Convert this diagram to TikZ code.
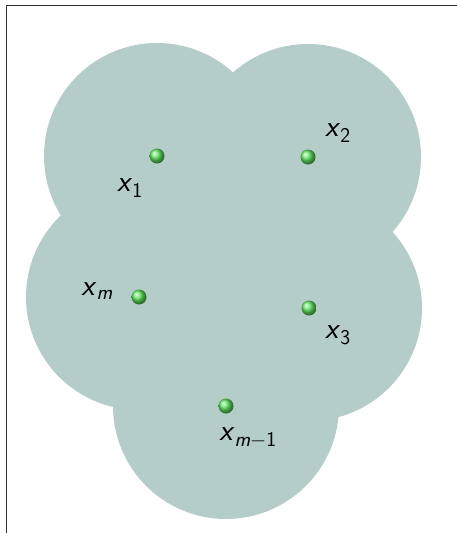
\documentclass[tikz,border=0pt]{standalone}
\usepackage{fontspec}
\definecolor{cover}{RGB}{180,205,200}
\definecolor{frame}{RGB}{50,50,50}
\definecolor{ballgreen}{RGB}{100,235,100}
\newcommand{\xlab}[1]{\textsf{\itshape x}\textsubscript{\sffamily #1}}
\begin{document}
\begin{tikzpicture}[x=1pt,y=-1pt,
  disc/.style={fill=cover,draw=none},
  pt/.style={circle,inner sep=0pt,minimum size=15pt,shading=ball,ball color=ballgreen},
  lab/.style={font=\fontsize{30}{34}\selectfont,inner sep=0pt}]
\useasboundingbox (0,0) rectangle (457,533);
\coordinate (c1) at (157,156);
\coordinate (c2) at (308,157);
\coordinate (c3) at (309,308);
\coordinate (cm) at (139,297);
\coordinate (cm1) at (226,406);
\foreach \c in {c1,c2,c3,cm,cm1} \fill[disc] (\c) circle (113);
\node[pt] (p1) at (c1) {};
\node[pt] (p2) at (c2) {};
\node[pt] (p3) at (c3) {};
\node[pt] (pm) at (cm) {};
\node[pt] (pm1) at (cm1) {};
\node[lab] (l1) at (130,188) {\xlab{1}};
\node[lab] (l2) at (338,133) {\xlab{2}};
\node[lab] (l3) at (338,335) {\xlab{3}};
\node[lab] (lm) at (97,291) {\xlab{\itshape m}};
\node[lab] (lm1) at (248,438) {\xlab{\itshape m\upshape$-$1}};
\coordinate (f0) at (6.5,5);
\coordinate (f1) at (457,5);
\coordinate (f2) at (6.5,533);
\draw[frame,line width=0.9pt] (f2) -- (f0) -- (f1);
\end{tikzpicture}
\end{document}
